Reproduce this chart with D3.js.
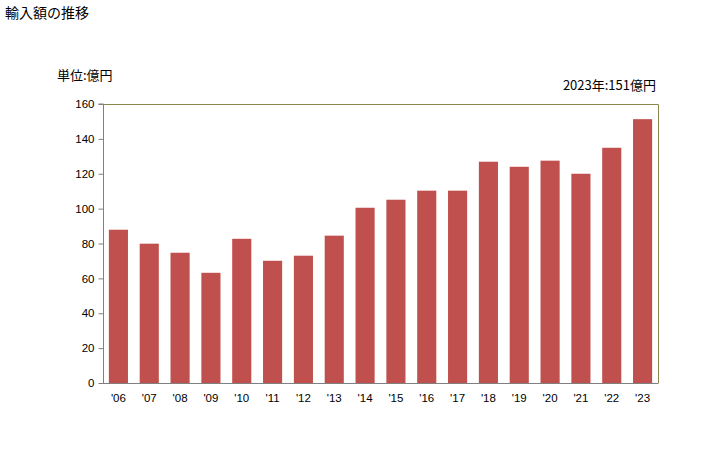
<!DOCTYPE html>
<html><head><meta charset="utf-8">
<script src="https://cdn.jsdelivr.net/npm/d3@7"></script>
<style>body{margin:0;background:#fff;} svg{display:block;font-family:"Noto Sans CJK JP","Noto Sans",sans-serif;}</style>
</head><body>
<svg id="c" width="728" height="450"></svg>
<script>
const categories = ["'06","'07","'08","'09","'10","'11","'12","'13","'14","'15","'16","'17","'18","'19","'20","'21","'22","'23"];
const values = [87.9,79.9,74.7,63.2,82.7,70.1,73.0,84.5,100.5,105.1,110.3,110.3,126.9,124.0,127.5,120.0,134.9,151.3];
const yTicks = [0,20,40,60,80,100,120,140,160];
const title = "輸入額の推移";
const unitLabel = "単位:億円";
const noteLabel = "2023年:151億円";

const svg = d3.select("#c");
const m = {l:103, r:658, t:104, b:383};
const x = d3.scaleBand().domain(categories).range([m.l, m.r]).paddingInner(0.38).paddingOuter(0.19);
const y = d3.scaleLinear().domain([0,160]).range([m.b, m.t]);

svg.append("text").attr("x",5).attr("y",18).attr("font-size",14).attr("fill","#000").text(title);
svg.append("text").attr("x",57).attr("y",80).attr("font-size",13).attr("fill","#000").text(unitLabel);
svg.append("text").attr("x",656).attr("y",90).attr("font-size",13).attr("text-anchor","end").attr("fill","#000").text(noteLabel);

svg.selectAll("rect.bar").data(values).enter().append("rect")
  .attr("class","bar")
  .attr("x",(d,i)=>x(categories[i]))
  .attr("width",x.bandwidth())
  .attr("y",d=>y(d))
  .attr("height",d=>y(0)-y(d))
  .attr("fill","#c0504d");

svg.append("path").attr("d",`M${m.l},${m.t+0.5}H${m.r+0.5}V${m.b}`).attr("fill","none").attr("stroke","#8c8650").attr("stroke-width",1);

const yAxis = d3.axisLeft(y).tickValues(yTicks).tickSize(5).tickPadding(4);
const gy = svg.append("g").attr("transform",`translate(${m.l+0.5},0)`).call(yAxis);
gy.select(".domain").attr("stroke","#808080").attr("d",`M-5,${m.t}H0V${m.b}`);
gy.selectAll(".tick line").attr("stroke","#808080");
gy.selectAll(".tick text").attr("font-size",11.5).attr("fill","#000").attr("font-family","'Liberation Sans',Arial,sans-serif");

const xAxis = d3.axisBottom(x).tickSize(0).tickPadding(10);
const gx = svg.append("g").attr("transform",`translate(0,${m.b+0.5})`).call(xAxis);
gx.select(".domain").attr("stroke","#808080").attr("d",`M${m.l},0H${m.r+0.5}`);
gx.selectAll(".tick text").attr("font-size",11.5).attr("fill","#000").attr("font-family","'Liberation Sans',Arial,sans-serif");
</script>
</body></html>
